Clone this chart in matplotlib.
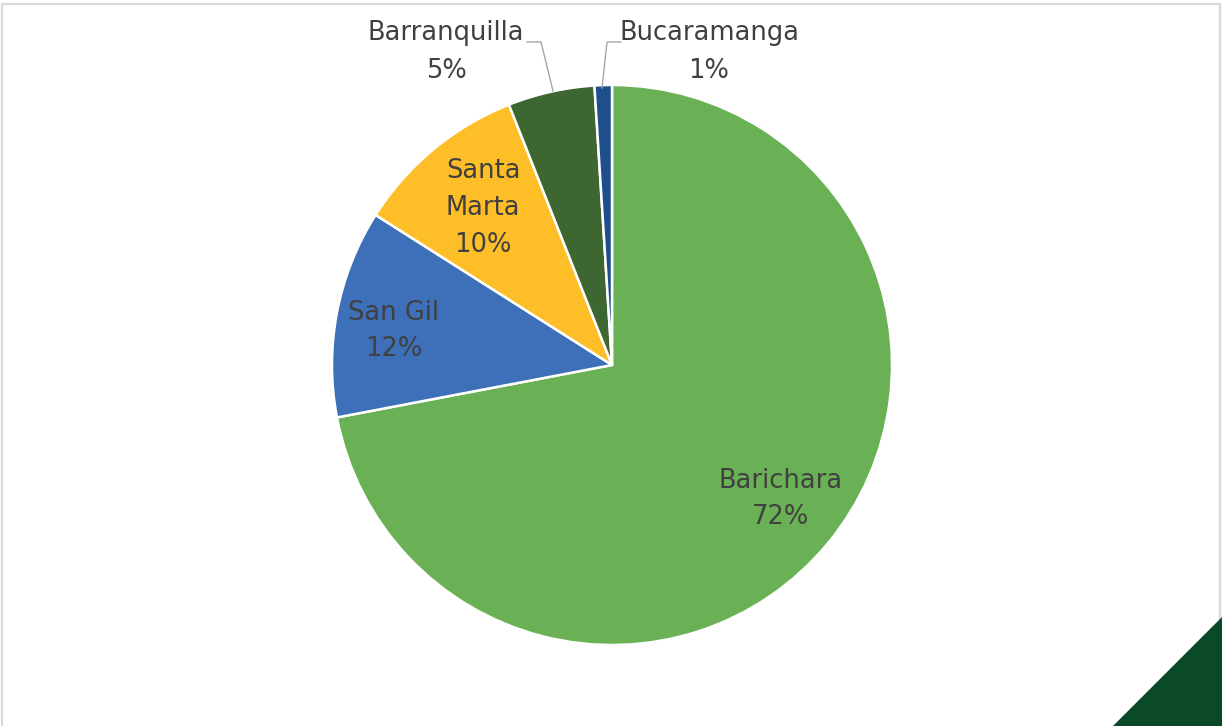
import matplotlib.pyplot as plt
from matplotlib.patches import Polygon
from matplotlib.lines import Line2D

cities = ['Barichara', 'San Gil', 'Santa Marta', 'Barranquilla', 'Bucaramanga']
shares = [72, 12, 10, 5, 1]
colors = ['#6AB155', '#3D70B8', '#FDBE27', '#3D6631', '#1E4F8C']

plt.rcParams['font.family'] = ['DejaVu Sans']

W, H = 1222, 726
fig = plt.figure(figsize=(W / 100, H / 100), dpi=100)
ax = fig.add_axes([0, 0, 1, 1])

cx, cy, r = 612, H - 365, 280
ax.pie(shares, colors=colors, startangle=90, counterclock=False,
       center=(cx, cy), radius=r, frame=True,
       wedgeprops=dict(edgecolor='white', linewidth=1.8))
ax.set_xlim(0, W)
ax.set_ylim(0, H)
ax.axis('off')

txt = dict(color='#404040', fontsize=18.5, ha='center', va='center', linespacing=1.55)

# labels inside the slices
ax.text(781, H - 499, f'{cities[0]}\n{shares[0]}%', **txt)
ax.text(394, H - 331, f'{cities[1]}\n{shares[1]}%', **txt)
ax.text(483, H - 208, 'Santa\nMarta\n' + f'{shares[2]}%', **txt)

# labels outside with leader lines
ax.text(446, H - 52, f'{cities[3]}\n{shares[3]}%', **txt)
ax.text(709, H - 52, f'{cities[4]}\n{shares[4]}%', **txt)
lead = dict(color='#A6A6A6', linewidth=1.0)
ax.add_line(Line2D([527, 541, 553], [H - 42, H - 42, H - 91], **lead))
ax.add_line(Line2D([621, 607, 602], [H - 42, H - 42, H - 88], **lead))

# frame and corner accent
ax.add_line(Line2D([2, 2, W - 2, W - 2], [0, H - 4, H - 4, 0], color='#D9D9D9', linewidth=1.6))
ax.add_patch(Polygon([[1113, 0], [W, 0], [W, H - 617]], closed=True,
                     facecolor='#0B4A28', edgecolor='none', zorder=5))

fig.savefig('out.png', dpi=100)
